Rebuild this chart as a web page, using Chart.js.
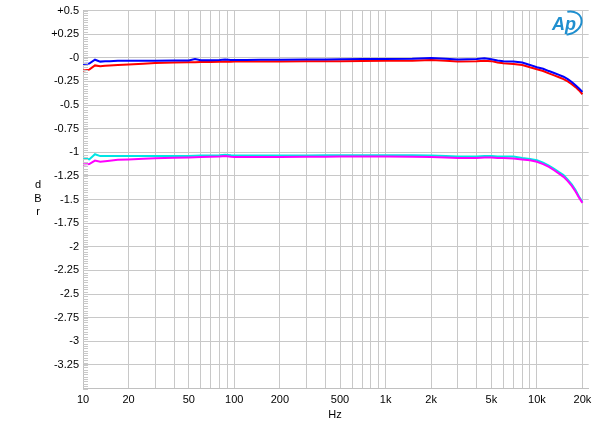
<!DOCTYPE html>
<html><head><meta charset="utf-8">
<script src="https://cdn.jsdelivr.net/npm/chart.js@4/dist/chart.umd.min.js"></script>
<style>html,body{margin:0;padding:0;background:#fff}#wrap{width:600px;height:431px}</style>
</head><body><div id="wrap"><canvas id="c" width="600" height="431"></canvas></div>
<script>
const freqs = [10,11,12,13,14,15,17,20,25,30,40,50,55,60,70,80,87,95,100,120,150,200,300,400,500,700,1000,1500,2000,2500,3000,4000,4500,5000,5500,6000,7000,8000,9000,10000,11000,12000,13000,14000,15000,16000,17000,18000,19000,20000];
const blue = [-0.065,-0.06,-0.02,-0.04,-0.035,-0.035,-0.03,-0.03,-0.03,-0.03,-0.028,-0.028,-0.012,-0.025,-0.025,-0.022,-0.018,-0.022,-0.022,-0.022,-0.02,-0.02,-0.018,-0.018,-0.015,-0.012,-0.012,-0.01,-0.002,-0.01,-0.018,-0.012,-0.005,-0.015,-0.028,-0.035,-0.04,-0.05,-0.075,-0.1,-0.115,-0.14,-0.16,-0.18,-0.2,-0.225,-0.255,-0.29,-0.325,-0.36];
const red = [-0.135,-0.125,-0.08,-0.09,-0.085,-0.08,-0.075,-0.07,-0.062,-0.055,-0.05,-0.048,-0.046,-0.045,-0.044,-0.042,-0.04,-0.041,-0.04,-0.04,-0.039,-0.038,-0.037,-0.036,-0.035,-0.034,-0.032,-0.03,-0.022,-0.032,-0.04,-0.035,-0.03,-0.035,-0.05,-0.058,-0.065,-0.075,-0.1,-0.12,-0.14,-0.165,-0.185,-0.205,-0.225,-0.25,-0.28,-0.31,-0.345,-0.385];
const cyan = [-1.055,-1.075,-1.02,-1.04,-1.04,-1.04,-1.04,-1.04,-1.04,-1.04,-1.038,-1.038,-1.036,-1.035,-1.033,-1.03,-1.025,-1.032,-1.035,-1.035,-1.035,-1.035,-1.033,-1.032,-1.03,-1.03,-1.03,-1.032,-1.035,-1.04,-1.045,-1.045,-1.04,-1.04,-1.045,-1.045,-1.045,-1.06,-1.07,-1.083,-1.11,-1.14,-1.175,-1.21,-1.24,-1.29,-1.34,-1.4,-1.47,-1.525];
const magenta = [-1.13,-1.125,-1.088,-1.1,-1.095,-1.09,-1.08,-1.075,-1.068,-1.062,-1.058,-1.055,-1.053,-1.05,-1.048,-1.045,-1.04,-1.047,-1.05,-1.05,-1.05,-1.05,-1.048,-1.046,-1.045,-1.045,-1.045,-1.047,-1.05,-1.055,-1.06,-1.06,-1.055,-1.055,-1.06,-1.06,-1.065,-1.075,-1.085,-1.1,-1.125,-1.155,-1.19,-1.225,-1.26,-1.305,-1.355,-1.415,-1.48,-1.535];
const xGrid = [10,20,30,40,50,60,70,80,90,100,200,300,400,500,600,700,800,900,1000,2000,3000,4000,5000,6000,7000,8000,9000,10000,20000];
const xLabels = {10:'10',20:'20',50:'50',100:'100',200:'200',500:'500',1000:'1k',2000:'2k',5000:'5k',10000:'10k',20000:'20k'};
const yTitle = ['d','B','r'];

const pts = arr => freqs.map((f,i)=>({x:f,y:arr[i]}));
const ds = (label, arr, color) => ({label, data: pts(arr), borderColor: color, borderWidth: 2, pointRadius: 0, tension: 0, fill: false});

const extras = {
  id: 'extras',
  afterDraw(chart) {
    const ctx = chart.ctx, y = chart.scales.y, a = chart.chartArea;
    ctx.save();
    ctx.strokeStyle = '#c8c8c8'; ctx.lineWidth = 1;
    for (let k = 0; k <= 160; k++) {
      const v = 0.5 - k * 0.025;
      const py = Math.round(y.getPixelForValue(v)) + 0.5;
      ctx.beginPath(); ctx.moveTo(a.left, py); ctx.lineTo(a.left + 5, py); ctx.stroke();
    }
    ctx.fillStyle = '#000';
    ctx.font = '11px "Liberation Sans", Arial, sans-serif';
    ctx.textAlign = 'center'; ctx.textBaseline = 'middle';
    yTitle.forEach((t,i)=>ctx.fillText(t, 38, 185 + i*13.5));
    ctx.fillText('Hz', 335, 415);
    // AP logo
    ctx.strokeStyle = '#1f8fcf'; ctx.lineWidth = 2;
    ctx.beginPath(); ctx.ellipse(568, 23, 14, 11, -0.4, -1.3, 2.0); ctx.stroke();
    ctx.fillStyle = '#1f8fcf';
    ctx.font = 'italic bold 18px "Liberation Sans", Arial, sans-serif';
    ctx.fillText('Ap', 564, 25);
    ctx.restore();
  }
};

new Chart(document.getElementById('c'), {
  type: 'line',
  data: { datasets: [ ds('L', blue, '#0000ff'), ds('R', red, '#ff0000'), ds('L2', magenta, '#ff00ff'), ds('R2', cyan, '#00e5e5') ] },
  options: {
    responsive: false, animation: false,
    layout: { padding: { left: 0, right: 11.3, top: 10.5, bottom: 0 } },
    plugins: { legend: { display: false }, tooltip: { enabled: false } },
    scales: {
      x: {
        type: 'logarithmic', min: 10, max: 22000,
        afterBuildTicks: s => { s.ticks = xGrid.map(v => ({ value: v })); },
        afterFit: s => { s.height = 42.5; },
        grid: { color: '#c8c8c8', lineWidth: 1, drawTicks: false },
        border: { color: '#c0c0c0' },
        ticks: { autoSkip: false, maxRotation: 0, padding: 5, color: '#000',
          font: { family: '"Liberation Sans", Arial, sans-serif', size: 11 },
          callback: v => xLabels[v] || '' }
      },
      y: {
        min: -3.5, max: 0.5,
        ticks: { stepSize: 0.25, padding: 4, color: '#000',
          font: { family: '"Liberation Sans", Arial, sans-serif', size: 11 },
          callback: v => { if (Math.abs(v + 3.5) < 1e-6) return ''; if (Math.abs(v) < 1e-6) return '-0'; return v > 0 ? '+' + v : String(v); } },
        afterFit: s => { s.width = 83; },
        grid: { color: '#c8c8c8', lineWidth: 1, drawTicks: false },
        border: { color: '#c0c0c0' }
      }
    }
  },
  plugins: [extras]
});
</script></body></html>
